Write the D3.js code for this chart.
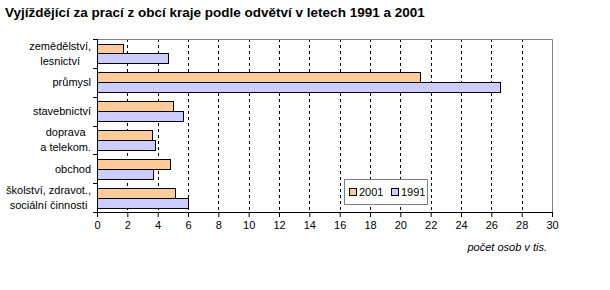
<!DOCTYPE html>
<html>
<head>
<meta charset="utf-8">
<script src="https://cdn.jsdelivr.net/npm/d3@7"></script>
<style>
  body { margin: 0; background: #fff; }
  svg text { font-family: Arial, "Liberation Sans", sans-serif; }
</style>
</head>
<body>
<div id="chart"></div>
<script>
var categories = [
  ["zemědělství,", "lesnictví"],
  ["průmysl"],
  ["stavebnictví"],
  ["doprava", "a telekom."],
  ["obchod"],
  ["školství, zdravot.,", "sociální činnosti"]
];
var seriesNames = ["2001", "1991"];
var values2001 = [1.7, 21.3, 5.0, 3.65, 4.8, 5.15];
var values1991 = [4.7, 26.6, 5.7, 3.8, 3.7, 6.0];
var xTicks = [0, 2, 4, 6, 8, 10, 12, 14, 16, 18, 20, 22, 24, 26, 28, 30];
var colors = ["#ffcc99", "#ccccff"];

var W = 610, H = 290;
var m = { left: 97, right: 58, top: 39, bottom: 78 };
var pw = W - m.left - m.right, ph = H - m.top - m.bottom;

var svg = d3.select("#chart").append("svg")
  .attr("width", W).attr("height", H);

svg.append("text")
  .attr("x", 5).attr("y", 17)
  .attr("font-size", "13.5px").attr("font-weight", "bold")
  .text("Vyjíždějící za prací z obcí kraje podle odvětví v letech 1991 a 2001");

var g = svg.append("g").attr("transform", "translate(" + m.left + "," + m.top + ")");

var x = d3.scaleLinear().domain([0, 30]).range([0, pw]);
var y = d3.scaleBand().domain(d3.range(categories.length)).range([0, ph]);
var ys = d3.scaleBand().domain(seriesNames).range([0, y.bandwidth()]).paddingOuter(0.47);

// grid
g.selectAll(".grid")
  .data(xTicks.filter(function(d) { return d > 0 && d < 30; }))
  .enter().append("line")
    .attr("x1", function(d) { return Math.round(x(d)) + 0.5; })
    .attr("x2", function(d) { return Math.round(x(d)) + 0.5; })
    .attr("y1", 0).attr("y2", ph)
    .attr("stroke", "#000").attr("stroke-dasharray", "3,3");

// border top/right
g.append("path")
  .attr("d", "M0.5,0.5H" + (Math.round(pw) + 0.5) + "V" + ph)
  .attr("fill", "none").attr("stroke", "#808080");

var data = [];
categories.forEach(function(c, i) {
  data.push({ cat: i, s: "2001", v: values2001[i] });
  data.push({ cat: i, s: "1991", v: values1991[i] });
});

g.selectAll(".bar")
  .data(data)
  .enter().append("rect")
    .attr("x", 0.5)
    .attr("y", function(d) { return Math.round(y(d.cat) + ys(d.s)) + 0.5; })
    .attr("width", function(d) { return Math.round(x(d.v)); })
    .attr("height", Math.round(ys.bandwidth()))
    .attr("fill", function(d) { return colors[seriesNames.indexOf(d.s)]; })
    .attr("stroke", "#000");

// x axis
var xAxis = g.append("g")
  .attr("transform", "translate(0," + ph + ")")
  .call(d3.axisBottom(x).tickValues(xTicks).tickSize(5).tickPadding(4).tickFormat(d3.format("d")));
xAxis.select(".domain").attr("stroke", "#000");
xAxis.selectAll("text").attr("font-size", "11px").attr("fill", "#000")
  .style("font-family", "Arial, 'Liberation Sans', sans-serif");

// y axis
g.append("line").attr("x1", 0.5).attr("x2", 0.5).attr("y1", 0).attr("y2", ph).attr("stroke", "#000");
g.selectAll(".ytick")
  .data(d3.range(categories.length + 1))
  .enter().append("line")
    .attr("x1", -4).attr("x2", 0.5)
    .attr("y1", function(d) { return Math.round(d * y.step()) + 0.5; })
    .attr("y2", function(d) { return Math.round(d * y.step()) + 0.5; })
    .attr("stroke", "#000");

var labels = g.selectAll(".ylab")
  .data(categories)
  .enter().append("text")
    .attr("font-size", "11px")
    .attr("text-anchor", "middle");
labels.each(function(c, i) {
  var t = d3.select(this);
  var cy = y(i) + y.bandwidth() / 2;
  c.forEach(function(line, j) {
    t.append("tspan")
      .attr("y", cy + 4 + (j - (c.length - 1) / 2) * 15)
      .text(line);
  });
  var w = d3.max(t.selectAll("tspan").nodes(), function(n) { return n.getComputedTextLength(); });
  t.selectAll("tspan").attr("x", -6 - w / 2);
});

svg.append("text")
  .attr("x", 547).attr("y", 251)
  .attr("text-anchor", "end")
  .attr("font-size", "11px").attr("font-style", "italic")
  .text("počet osob v tis.");

// legend
var lg = svg.append("g").attr("transform", "translate(344,179)");
lg.append("rect").attr("x", 0.5).attr("y", 0.5).attr("width", 83).attr("height", 25)
  .attr("fill", "#fff").attr("stroke", "#808080");
var li = lg.selectAll(".li").data(seriesNames).enter().append("g")
  .attr("transform", function(d, i) { return "translate(" + (5 + i * 42) + ",0)"; });
li.append("rect").attr("x", 0.5).attr("y", 9.5).attr("width", 7).attr("height", 7)
  .attr("fill", function(d, i) { return colors[i]; }).attr("stroke", "#000");
li.append("text").attr("x", 10).attr("y", 17).attr("font-size", "11px").text(function(d) { return d; });
</script>
</body>
</html>
